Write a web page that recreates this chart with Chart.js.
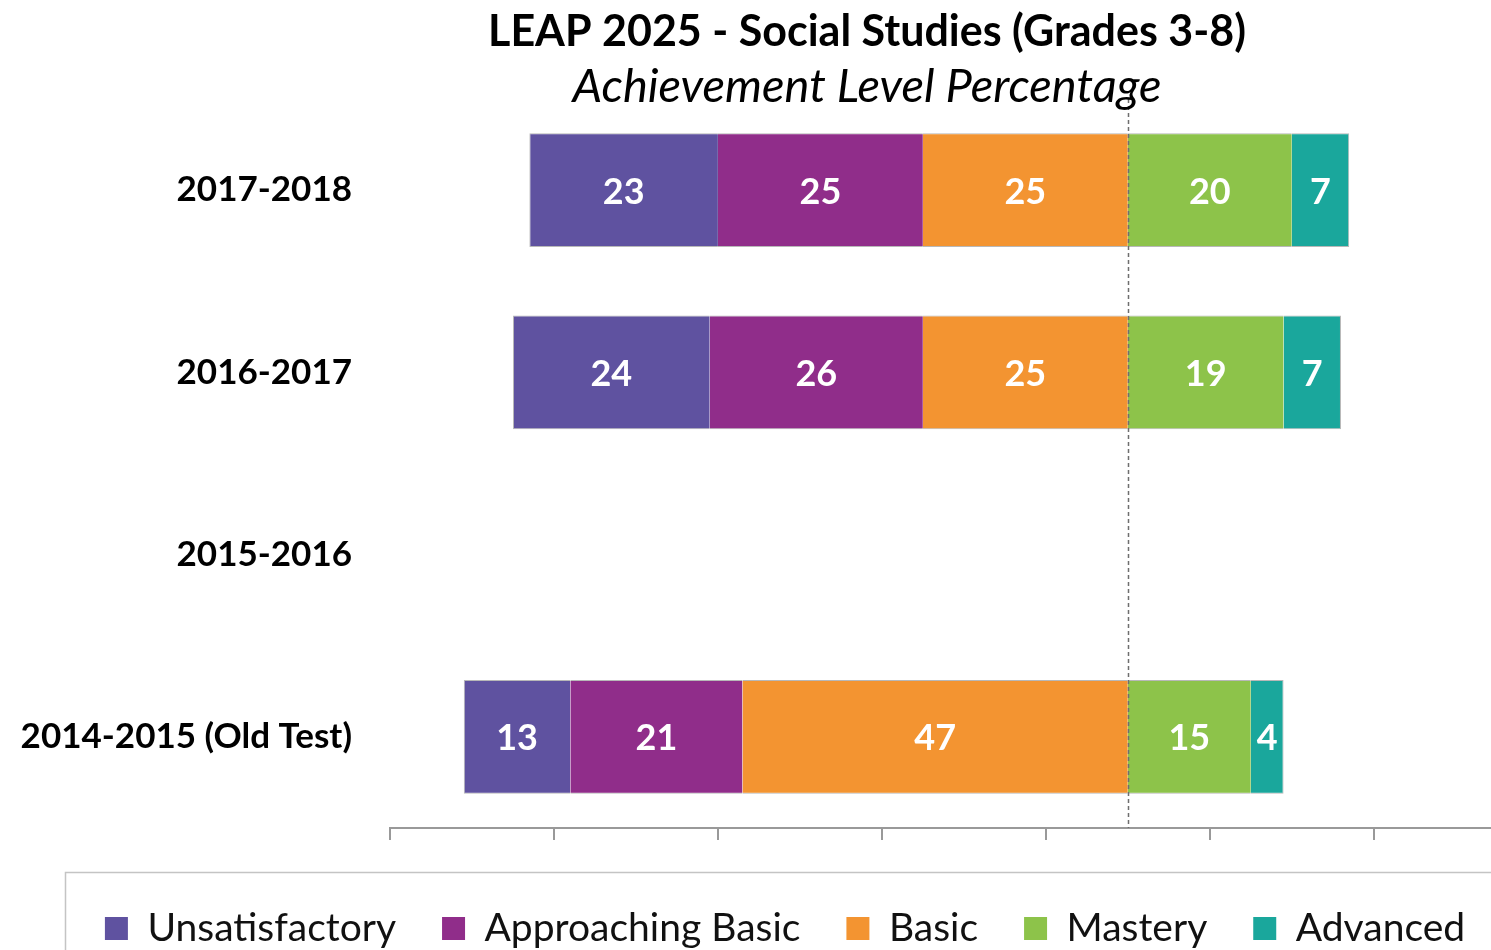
<!DOCTYPE html>
<html>
<head>
<meta charset="utf-8">
<title>LEAP 2025 - Social Studies (Grades 3-8)</title>
<script src="https://cdn.jsdelivr.net/npm/chart.js@4.4.1/dist/chart.umd.min.js"></script>
<style>
  html, body { margin: 0; padding: 0; background: #fff; }
  #wrap { width: 1491px; height: 950px; }
</style>
</head>
<body>
<div id="wrap"><canvas id="chart" width="1491" height="950"></canvas></div>
<script>
// Achievement level percentages per school year
const years = ['2017-2018', '2016-2017', '2015-2016', '2014-2015 (Old Test)'];
const levels = ['Unsatisfactory', 'Approaching Basic', 'Basic', 'Mastery', 'Advanced'];
const unsatisfactory = [23, 24, null, 13];
const approachingBasic = [25, 26, null, 21];
const basic = [25, 25, null, 47];
const mastery = [20, 19, null, 15];
const advanced = [7, 7, null, 4];
const axisTicks = [-90, -70, -50, -30, -10, 10, 30];
const titleText = 'LEAP 2025 - Social Studies (Grades 3-8)';
const subtitleText = 'Achievement Level Percentage';

const FONT = 'Lato, "Open Sans", sans-serif';
const colors = {
    'Unsatisfactory': '#5F52A0',
    'Approaching Basic': '#902D8A',
    'Basic': '#F39431',
    'Mastery': '#8DC34A',
    'Advanced': '#1AA79C'
};
const edge = '#b8b8b8';

// below-Mastery levels go left of the zero line, closest to zero first
function segment(label, values, negative, border) {
    return {
        label: label,
        data: values.map(v => v == null ? null : (negative ? -v : v)),
        backgroundColor: colors[label],
        borderColor: edge,
        borderWidth: border,
        borderSkipped: false,
        barPercentage: 0.625,
        categoryPercentage: 1
    };
}

const datasets = [
    segment('Basic', basic, true, { top: 1, bottom: 1, left: 0, right: 0 }),
    segment('Approaching Basic', approachingBasic, true, { top: 1, bottom: 1, left: 0, right: 0 }),
    segment('Unsatisfactory', unsatisfactory, true, { top: 1, bottom: 1, left: 1, right: 0 }),
    segment('Mastery', mastery, false, { top: 1, bottom: 1, left: 0, right: 0 }),
    segment('Advanced', advanced, false, { top: 1, bottom: 1, left: 0, right: 1 })
];

// white numbers in the middle of each segment
const segmentLabels = {
    id: 'segmentLabels',
    afterDatasetsDraw(chart) {
        const ctx = chart.ctx;
        ctx.save();
        ctx.font = 'bold 36px ' + FONT;
        ctx.fillStyle = '#fff';
        ctx.textAlign = 'center';
        ctx.textBaseline = 'middle';
        chart.data.datasets.forEach((ds, i) => {
            chart.getDatasetMeta(i).data.forEach((bar, j) => {
                const v = ds.data[j];
                if (v == null) return;
                const p = bar.getProps(['x', 'base', 'y'], true);
                ctx.fillText(String(Math.abs(v)), (p.x + p.base) / 2, p.y + 2);
            });
        });
        ctx.restore();
    }
};

// dashed line at zero
const zeroLine = {
    id: 'zeroLine',
    afterDatasetsDraw(chart) {
        const { ctx, chartArea, scales } = chart;
        const x0 = Math.round(scales.x.getPixelForValue(0)) + 0.5;
        ctx.save();
        ctx.strokeStyle = '#6e6e6e';
        ctx.lineWidth = 1.5;
        ctx.setLineDash([4, 3]);
        ctx.beginPath();
        ctx.moveTo(x0, chartArea.top);
        ctx.lineTo(x0, chartArea.bottom);
        ctx.stroke();
        ctx.restore();
    }
};

// title + italic subtitle, legend frame
const titles = {
    id: 'titles',
    afterDraw(chart) {
        const ctx = chart.ctx;
        const cx = 867;
        ctx.save();
        ctx.fillStyle = '#000';
        ctx.textAlign = 'center';
        ctx.textBaseline = 'alphabetic';
        ctx.font = 'bold 43px ' + FONT;
        ctx.fillText(titleText, cx, 46);
        ctx.font = 'italic 47px ' + FONT;
        ctx.fillText(subtitleText, cx, 102);
        const lg = chart.legend;
        ctx.strokeStyle = '#c4c4c4';
        ctx.lineWidth = 1.5;
        ctx.strokeRect(65.5, lg.top + 9.5, chart.width, 200);
        ctx.restore();
    }
};

new Chart(document.getElementById('chart'), {
    type: 'bar',
    data: { labels: years, datasets: datasets },
    plugins: [segmentLabels, zeroLine, titles],
    options: {
        indexAxis: 'y',
        responsive: false,
        animation: false,
        // legend row runs past the right edge of the picture
        layout: { padding: { left: 0, top: 99, right: -79, bottom: -8 } },
        plugins: {
            tooltip: { enabled: false },
            title: { display: false },
            legend: {
                position: 'bottom',
                align: 'center',
                labels: {
                    font: { family: FONT, size: 39 },
                    color: '#111',
                    boxWidth: 23,
                    boxHeight: 23,
                    padding: 46,
                    sort: (a, b) => levels.indexOf(a.text) - levels.indexOf(b.text),
                    generateLabels: (chart) => Chart.defaults.plugins.legend.labels
                        .generateLabels(chart).map(l => ({ ...l, lineWidth: 0 }))
                }
            }
        },
        scales: {
            x: {
                stacked: true,
                min: -90,
                max: 44.3,
                afterBuildTicks: (s) => { s.ticks = axisTicks.map(v => ({ value: v })); },
                afterFit: (s) => { s.height = 35; },
                grid: { drawOnChartArea: false, drawTicks: true, tickLength: 12, color: '#999', lineWidth: 2 },
                border: { display: true, color: '#999', width: 2 },
                ticks: { display: false }
            },
            y: {
                stacked: true,
                afterFit: (s) => { s.width = 390; },
                grid: { display: false, drawTicks: false },
                border: { display: false },
                ticks: {
                    color: '#000',
                    padding: 38,
                    font: { family: FONT, size: 35, weight: 'bold' }
                }
            }
        }
    }
});
</script>
</body>
</html>
